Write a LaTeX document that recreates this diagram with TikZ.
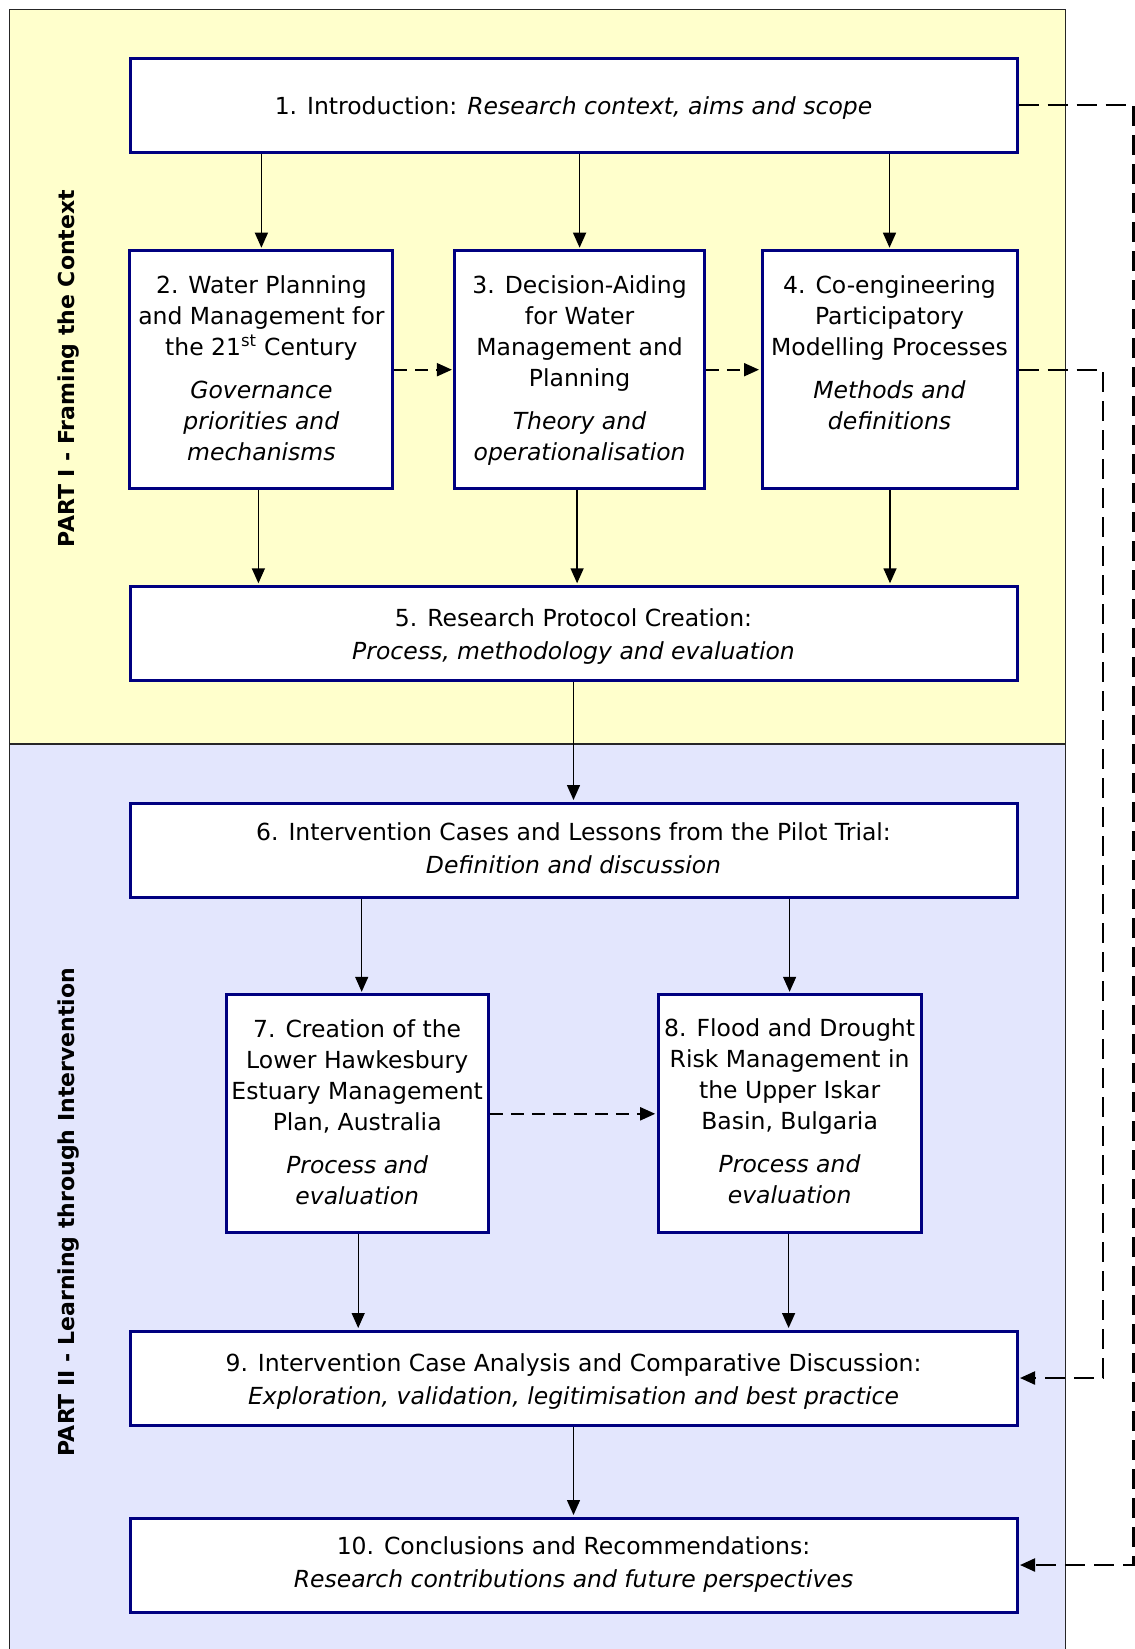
\documentclass[tikz,border=0pt]{standalone}
\usepackage{fontspec}
\setmainfont{DejaVu Sans}
\usetikzlibrary{arrows.meta}
\definecolor{panelY}{RGB}{255,255,204}
\definecolor{panelB}{RGB}{227,230,253}
\definecolor{navyb}{RGB}{0,0,128}
\begin{document}
\begin{tikzpicture}[x=1pt,y=-1pt,
  boxn/.style={draw=navyb, line width=3pt, fill=white, inner sep=0pt},
  txt/.style={inner sep=0pt, align=center, font=\fontsize{23.5}{31}\selectfont,
    execute at begin node=\strut, execute at end node=\strut},
  wide/.style={boxn, minimum width=887pt, minimum height=94pt},
  tall/.style={boxn, minimum height=238pt},
  arr/.style={line width=1.4pt, -{Triangle[length=15pt,width=13pt]}, shorten >=1.5pt},
  darr/.style={line width=2pt, dash pattern=on 13pt off 8pt, -{Triangle[length=15pt,width=13pt]}, shorten >=1.5pt},
  ldash/.style={line width=2.2pt, dash pattern=on 20pt off 9pt},
  partlabel/.style={rotate=90, inner sep=0pt, font=\fontsize{22}{26}\selectfont\bfseries}
]
\useasboundingbox (0,0) rectangle (1135,1649);
\clip (0,0) rectangle (1135,1649);
\fill[white] (0,0) rectangle (1135,1649);
% panels
\fill[panelY] (9.5,9.5) rectangle (1065.5,744);
\fill[panelB] (9.5,744) rectangle (1065.5,1670);
\draw[line width=1.8pt, black!85] (9.5,1670) -- (9.5,9.5) -- (1065.5,9.5) -- (1065.5,1670);
\draw[line width=1.8pt, black!85] (9.5,744) -- (1065.5,744);

\node[partlabel] (p1) at (69,368.5) {PART I - Framing the Context};
\node[partlabel] (p2) at (69,1212) {PART II - Learning through Intervention};

% boxes
\node[wide] (n1) at (573.5,105) {};
\node[tall, minimum width=263pt] (n2) at (261.4,369.7) {};
\node[tall, minimum width=249.4pt] (n3) at (579.6,369.7) {};
\node[tall, minimum width=255pt] (n4) at (889.5,369.7) {};
\node[wide] (n5) at (573.5,633.3) {};
\node[wide] (n6) at (573.5,850) {};
\node[tall, minimum width=262.3pt] (n7) at (357.2,1113.8) {};
\node[tall, minimum width=262.8pt] (n8) at (789.6,1113.8) {};
\node[wide] (n9) at (573.5,1378) {};
\node[wide] (n10) at (573.5,1565) {};

% texts
\node[txt] (t1) at ([yshift=-3.2pt]n1.center) {1. Introduction: \textit{Research context, aims and scope}};
\node[txt] (t2) at ([yshift=-3.2pt]n2.center) {2. Water Planning\\and Management for\\the 21\textsuperscript{st} Century\\[12pt]\textit{Governance}\\\textit{priorities and}\\\textit{mechanisms}};
\node[txt] (t3) at ([yshift=-3.2pt]n3.center) {3. Decision-Aiding\\for Water\\Management and\\Planning\\[12pt]\textit{Theory and}\\\textit{operationalisation}};
\node[txt] (t4) at ([yshift=-3.2pt]n4.center) {4. Co-engineering\\Participatory\\Modelling Processes\\[12pt]\textit{Methods and}\\\textit{definitions}\\ \mbox{}};
\node[txt] (t5) at ([yshift=-5.5pt]n5.center) {5. Research Protocol Creation:\\[2pt]\textit{Process, methodology and evaluation}};
\node[txt] (t6) at ([yshift=-3.2pt]n6.center) {6. Intervention Cases and Lessons from the Pilot Trial:\\[2pt]\textit{Definition and discussion}};
\node[txt] (t7) at ([yshift=-3.2pt]n7.center) {7. Creation of the\\Lower Hawkesbury\\Estuary Management\\Plan, Australia\\[12pt]\textit{Process and}\\\textit{evaluation}};
\node[txt] (t8) at ([yshift=-2pt]n8.center) {8. Flood and Drought\\Risk Management in\\the Upper Iskar\\Basin, Bulgaria\\[12pt]\textit{Process and}\\\textit{evaluation}};
\node[txt] (t9) at ([yshift=-5.5pt]n9.center) {9. Intervention Case Analysis and Comparative Discussion:\\[2pt]\textit{Exploration, validation, legitimisation and best practice}};
\node[txt] (t10) at ([yshift=-1.5pt]n10.center) {10. Conclusions and Recommendations:\\[2pt]\textit{Research contributions and future perspectives}};

% solid arrows
\draw[arr] (n2.north |- n1.south) -- (n2.north);
\draw[arr] (n3.north |- n1.south) -- (n3.north);
\draw[arr] (n4.north |- n1.south) -- (n4.north);
\draw[arr] ([xshift=-3pt]n2.south) -- ([xshift=-3pt]n2.south |- n5.north);
\draw[arr] ([xshift=-2.5pt]n3.south) -- ([xshift=-2.5pt]n3.south |- n5.north);
\draw[arr] ([xshift=0.5pt]n4.south) -- ([xshift=0.5pt]n4.south |- n5.north);
\draw[arr] (n5.south) -- (n6.north);
\draw[arr] ([xshift=4.5pt]n7.north |- n6.south) -- ([xshift=4.5pt]n7.north);
\draw[arr] (n8.north |- n6.south) -- (n8.north);
\draw[arr] ([xshift=1pt]n7.south) -- ([xshift=1pt]n7.south |- n9.north);
\draw[arr] ([xshift=-1pt]n8.south) -- ([xshift=-1pt]n8.south |- n9.north);
\draw[arr] (n9.south) -- (n10.north);

% dashed arrows
\draw[darr] (n2.east) -- (n3.west);
\draw[darr] (n3.east) -- (n4.west);
\draw[darr] (n7.east) -- (n8.west);

\coordinate (c1) at (1133.5,105);
\coordinate (c2) at (1133.5,1565);
\coordinate (c3) at (1103,369.7);
\coordinate (c4) at (1103,1378);
\draw[ldash, -{Triangle[length=15pt,width=13pt]}, shorten >=1.5pt] (n1.east) -- (c1) -- (c2) -- (n10.east);
\draw[ldash, -{Triangle[length=15pt,width=13pt]}, shorten >=1.5pt] (n4.east) -- (c3) -- (c4) -- (n9.east);
\end{tikzpicture}
\end{document}
